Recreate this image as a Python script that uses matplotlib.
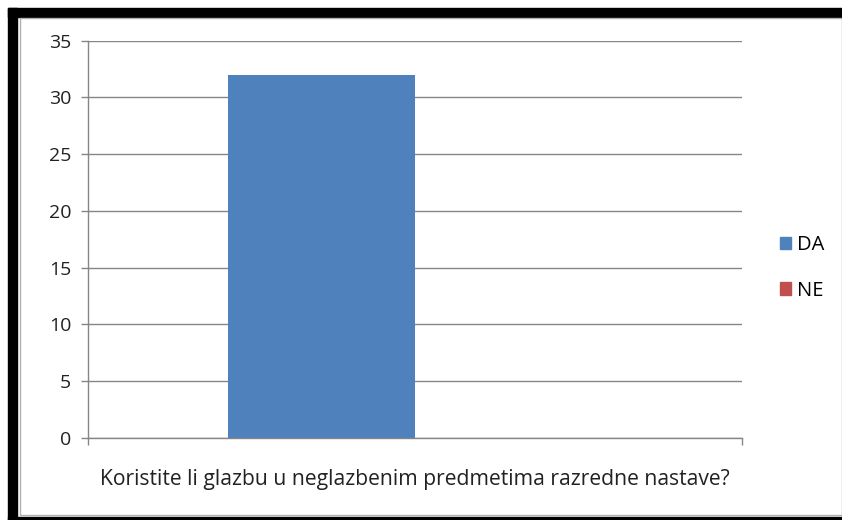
import matplotlib.pyplot as plt
from matplotlib.patches import Patch, Rectangle

# chart data
categories = ["Koristite li glazbu u neglazbenim predmetima razredne nastave?"]
series = ["DA", "NE"]
values = [32, 0]
colors = ["#4F81BD", "#C0504D"]
yticks = [0, 5, 10, 15, 20, 25, 30, 35]

W, H = 842, 520
plt.rcParams['font.family'] = ['Open Sans', 'DejaVu Sans']

fig = plt.figure(figsize=(W / 100, H / 100), dpi=100)
fig.patch.set_facecolor('white')


def px(x0, y0, w, h):
    # pixel box (top-left origin) -> figure fraction
    return [x0 / W, 1 - (y0 + h) / H, w / W, h / H]


# screenshot frame: thick black border on top/left, thin at bottom
for x0, y0, w, h in [(8, 8, 834, 9), (8, 8, 9, 512), (8, 517, 834, 3)]:
    fig.patches.append(Rectangle((x0 / W, 1 - (y0 + h) / H), w / W, h / H,
                                 transform=fig.transFigure, color='black', zorder=0))
# thin grey inner chart border
fig.patches.append(Rectangle((19.5 / W, 1 - 515 / H), (842 - 19.5) / W, (515 - 18) / H,
                             transform=fig.transFigure, fill=False, edgecolor='#b0b0b0',
                             linewidth=1, zorder=0))

ax = fig.add_axes(px(88, 40.5, 654, 397.5))
n = len(series)
bw = 1 / (n + 1.5)  # Excel gap width 150%
for i, (s, v, c) in enumerate(zip(series, values, colors)):
    ax.bar(-n * bw / 2 + bw * (i + 0.5), v, width=bw, color=c, label=s, zorder=2)

ax.set_xlim(-0.5, 0.5)
ax.set_ylim(0, 35)
ax.set_yticks(yticks)
ax.set_yticklabels([str(t) for t in yticks], fontsize=14, color='#222222')
ax.yaxis.grid(True, color='#868686', linewidth=1)
ax.set_axisbelow(True)
ax.tick_params(axis='y', length=5, width=1, color='#868686', pad=7)

ax.set_xticks([0])
ax.set_xticklabels(categories, fontsize=15.2, color='#222222')
ax.tick_params(axis='x', which='major', length=0, pad=22)
ax.set_xticks([-0.5, 0.5], minor=True)
ax.tick_params(axis='x', which='minor', length=5, width=1, color='#868686')

for side in ['top', 'right']:
    ax.spines[side].set_visible(False)
for side in ['left', 'bottom']:
    ax.spines[side].set_color('#868686')
    ax.spines[side].set_linewidth(1)

handles = [Patch(color=c, label=s) for s, c in zip(series, colors)]
fig.legend(handles=handles, loc='center left', bbox_to_anchor=(762 / W, 1 - 268 / H),
           frameon=False, fontsize=14.5, handlelength=0.55, handleheight=0.55,
           handletextpad=0.3, labelspacing=1.25)

fig.savefig('out.png', dpi=100)
